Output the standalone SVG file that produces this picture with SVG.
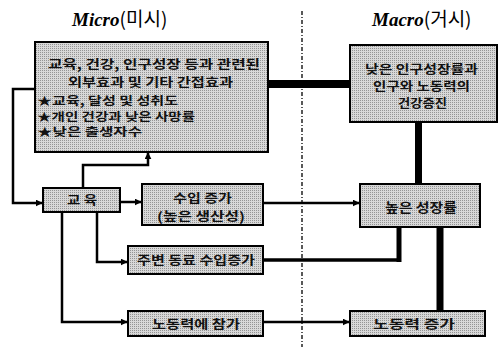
<svg xmlns="http://www.w3.org/2000/svg" width="503" height="347" viewBox="0 0 503 347">
<defs>
<marker id="arr" viewBox="0 0 10 10" refX="9" refY="5" markerWidth="7" markerHeight="7" markerUnits="userSpaceOnUse" orient="auto">
<path d="M0,0 L10,5 L0,10 z" fill="#000"/>
</marker>
<pattern id="dots" width="2" height="2" patternUnits="userSpaceOnUse">
<rect width="2" height="2" fill="#d8d8d8"/>
<rect width="1" height="1" fill="#949494"/>
</pattern>
</defs>
<style>
.box{fill:url(#dots);stroke:#000;stroke-width:2}
.t{font-family:"Noto Sans CJK KR","Noto Sans",sans-serif;font-weight:bold;fill:#111}
.thin{fill:none;stroke:#000;stroke-width:2.5}
.title{font-family:"Liberation Serif","Noto Sans CJK KR",serif;font-size:19px;fill:#000}
</style>
<rect width="503" height="347" fill="#fff"/>

<text class="title" x="72" y="26"><tspan font-style="italic" font-weight="bold">Micro</tspan><tspan font-family="Noto Sans CJK KR, sans-serif">(미시)</tspan></text>
<text class="title" x="372" y="26"><tspan font-style="italic" font-weight="bold">Macro</tspan><tspan font-family="Noto Sans CJK KR, sans-serif">(거시)</tspan></text>
<line x1="302" y1="11" x2="302" y2="347" stroke="#000" stroke-width="1.3" stroke-dasharray="4,2,1,2"/>

<g id="connectors">
<line x1="268" y1="84" x2="350" y2="84" stroke="#000" stroke-width="8"/>
<line x1="418.5" y1="122" x2="418.5" y2="184" stroke="#000" stroke-width="7"/>
<line x1="440" y1="227" x2="440" y2="311" stroke="#000" stroke-width="7"/>
<path class="thin" d="M35,89 H13 V203 H42" marker-end="url(#arr)"/>
<path class="thin" d="M83,188 V165 H148 V153" marker-end="url(#arr)"/>
<path class="thin" d="M120,202 H141" marker-end="url(#arr)"/>
<path class="thin" d="M263,203 H359" marker-end="url(#arr)"/>
<path class="thin" d="M97,212 V262 H127" marker-end="url(#arr)"/>
<path class="thin" d="M62,212 V322 H127" marker-end="url(#arr)"/>
<path class="thin" d="M263,322 H349" marker-end="url(#arr)"/>
<path d="M263,260 H399" fill="none" stroke="#000" stroke-width="3.5"/>
<path d="M399,262 V227" fill="none" stroke="#000" stroke-width="5"/>
</g>

<g id="externality">
<rect class="box" x="35" y="42" width="233" height="110"/>
<text class="t" x="48" y="69" font-size="12.5" textLength="212" lengthAdjust="spacingAndGlyphs">교육, 건강, 인구성장 등과 관련된</text>
<text class="t" x="68" y="87" font-size="12.5" textLength="165" lengthAdjust="spacingAndGlyphs">외부효과 및 기타 간접효과</text>
<text class="t" x="37" y="105" font-size="11.5" textLength="141" lengthAdjust="spacingAndGlyphs">★교육, 달성 및 성취도</text>
<text class="t" x="37" y="121" font-size="11.5" textLength="158" lengthAdjust="spacingAndGlyphs">★개인 건강과 낮은 사망률</text>
<text class="t" x="37" y="136" font-size="11.5" textLength="105" lengthAdjust="spacingAndGlyphs">★낮은 출생자수</text>
</g>

<g id="health">
<rect class="box" x="350" y="45" width="147" height="77"/>
<text class="t" x="365" y="74" font-size="12" textLength="113" lengthAdjust="spacingAndGlyphs">낮은 인구성장률과</text>
<text class="t" x="373" y="91" font-size="12" textLength="97" lengthAdjust="spacingAndGlyphs">인구와 노동력의</text>
<text class="t" x="398" y="108" font-size="12" textLength="49" lengthAdjust="spacingAndGlyphs">건강증진</text>
</g>

<g id="education">
<rect class="box" x="43" y="188" width="77" height="24"/>
<text class="t" x="67" y="205" font-size="12.5" textLength="30" lengthAdjust="spacingAndGlyphs">교 육</text>
</g>

<g id="income">
<rect class="box" x="142" y="184" width="121" height="41"/>
<text class="t" x="173" y="203" font-size="12.5" textLength="59" lengthAdjust="spacingAndGlyphs">수입 증가</text>
<text class="t" x="157" y="221" font-size="12.5" textLength="88" lengthAdjust="spacingAndGlyphs">(높은 생산성)</text>
</g>

<g id="growth">
<rect class="box" x="360" y="184" width="120" height="43"/>
<text class="t" x="385" y="212" font-size="13" textLength="72" lengthAdjust="spacingAndGlyphs">높은 성장률</text>
</g>

<g id="peer">
<rect class="box" x="128" y="246" width="135" height="28"/>
<text class="t" x="137" y="265" font-size="12.5" textLength="118" lengthAdjust="spacingAndGlyphs">주변 동료 수입증가</text>
</g>

<g id="participation">
<rect class="box" x="128" y="311" width="135" height="25"/>
<text class="t" x="152" y="329" font-size="12.5" textLength="88" lengthAdjust="spacingAndGlyphs">노동력에 참가</text>
</g>

<g id="laborforce">
<rect class="box" x="350" y="311" width="135" height="25"/>
<text class="t" x="373" y="329" font-size="12.5" textLength="82" lengthAdjust="spacingAndGlyphs">노동력 증가</text>
</g>
</svg>
